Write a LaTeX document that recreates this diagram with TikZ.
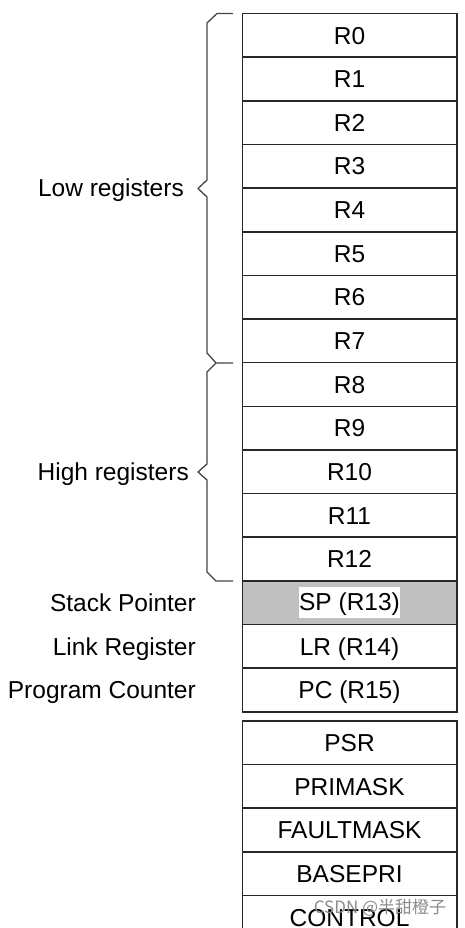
\documentclass[tikz,border=0pt]{standalone}
\usepackage{fontspec}
\setmainfont{Liberation Sans}
\newfontfamily\cjk{Noto Sans CJK SC}
\usetikzlibrary{positioning}
\definecolor{regline}{RGB}{40,40,40}
\definecolor{regshade}{RGB}{192,192,192}
\definecolor{braceline}{RGB}{70,70,70}

\begin{document}
\begin{tikzpicture}[x=1pt,y=-1pt,
  reg/.style={draw=regline,line width=1.6pt,minimum width=214.4pt,minimum height=43.65pt,inner sep=0pt,
    font=\fontsize{24.5}{28}\selectfont,text height=17.5pt,text depth=0pt},
  side/.style={anchor=base east,inner sep=0pt,font=\fontsize{24.5}{28}\selectfont},
  bracepath/.style={draw=braceline,line width=1.3pt,line join=round}]
\useasboundingbox[fill=white] (0,0) rectangle (464,928);
% core registers
\node[reg] (r0) at (349.5,35.3) {R0};
\node[reg] (r1) at (349.5,78.95) {R1};
\node[reg] (r2) at (349.5,122.6) {R2};
\node[reg] (r3) at (349.5,166.25) {R3};
\node[reg] (r4) at (349.5,209.9) {R4};
\node[reg] (r5) at (349.5,253.55) {R5};
\node[reg] (r6) at (349.5,297.2) {R6};
\node[reg] (r7) at (349.5,340.85) {R7};
\node[reg] (r8) at (349.5,384.5) {R8};
\node[reg] (r9) at (349.5,428.15) {R9};
\node[reg] (r10) at (349.5,471.8) {R10};
\node[reg] (r11) at (349.5,515.45) {R11};
\node[reg] (r12) at (349.5,559.1) {R12};
\node[reg,fill=regshade] (sp) at (349.5,602.75) {};
\node[fill=white,inner xsep=0.5pt,inner ysep=4.5pt,font=\fontsize{24.5}{28}\selectfont,text height=19pt,text depth=3pt] (sptext) at (sp) {SP (R13)};
\node[reg] (lr) at (349.5,646.4) {LR (R14)};
\node[reg] (pc) at (349.5,690.05) {PC (R15)};
% special registers
\node[reg] (psr) at (349.5,742.8) {PSR};
\node[reg] (primask) at (349.5,786.45) {PRIMASK};
\node[reg] (faultmask) at (349.5,830.1) {FAULTMASK};
\node[reg] (basepri) at (349.5,873.75) {BASEPRI};
\node[reg] (control) at (349.5,917.4) {CONTROL};
% braces
\draw[bracepath] (233,13.5) -- (217,13.5) -- (207,23) -- (207,180) -- (198,188.5) -- (207,197)
  -- (207,353) -- (216,363) -- (233,363);
\draw[bracepath] (216,363) -- (207,372) -- (207,464) -- (198,472) -- (207,480)
  -- (207,572) -- (216,581) -- (233,581);
% labels
\node[side] (lowlbl) at (184,196.5) {Low registers};
\node[side] (highlbl) at (189,480.5) {High registers};
\node[side] (splbl) at (196,611.5) {Stack Pointer};
\node[side] (lrlbl) at (196,655) {Link Register};
\node[side] (pclbl) at (196,698.5) {Program Counter};
% watermark
\node[text=black!45,font=\cjk\fontsize{17}{20}\selectfont,inner sep=0pt] (mark) at (380,908) {CSDN @半甜橙子};
\end{tikzpicture}
\end{document}
